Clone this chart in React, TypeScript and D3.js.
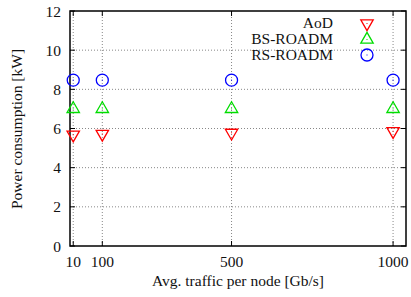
import React from "react";
import * as d3 from "d3";

const traffic = [10, 100, 500, 1000];
const aod = [5.68, 5.72, 5.78, 5.86];
const bsRoadm = [7.0, 7.0, 7.0, 7.0];
const rsRoadm = [8.47, 8.47, 8.47, 8.47];
const xTicks = [10, 100, 500, 1000];
const yTicks = [0, 2, 4, 6, 8, 10, 12];
const seriesNames = ["AoD", "BS-ROADM", "RS-ROADM"];
const seriesColors = ["#ff0000", "#00dd00", "#0000ff"];

const W = 411, H = 297;
const L = 70, R = 406, T = 11, B = 246;
const FONT = "'Liberation Serif', 'Times New Roman', serif";

function Marker({ kind, x, y, color }: { kind: number; x: number; y: number; color: string }) {
  const s = 6.2;
  const h = s * Math.sqrt(3);
  let shape: React.ReactNode;
  if (kind === 0) {
    shape = <path d={`M${x - s},${y - h / 3}L${x + s},${y - h / 3}L${x},${y + (2 * h) / 3}Z`} fill="none" stroke={color} strokeWidth={1.3} />;
  } else if (kind === 1) {
    shape = <path d={`M${x - s},${y + h / 3}L${x + s},${y + h / 3}L${x},${y - (2 * h) / 3}Z`} fill="none" stroke={color} strokeWidth={1.3} />;
  } else {
    shape = <circle cx={x} cy={y} r={6} fill="none" stroke={color} strokeWidth={1.3} />;
  }
  return (
    <g>
      {shape}
      <rect x={x - 0.5} y={y - 0.5} width={1} height={1} fill={color} />
    </g>
  );
}

export default function App() {
  const x = d3.scaleLinear().domain([0, 1040]).range([L, R]);
  const y = d3.scaleLinear().domain([0, 12]).range([B, T]);
  const series = [aod, bsRoadm, rsRoadm];
  const legendY = [22.5, 38.5, 54];

  return (
    <svg width={W} height={H} style={{ position: "absolute", left: 0, top: 0, background: "#fff" }} fontFamily={FONT}>
      <rect x={0} y={0} width={W} height={H} fill="#fff" />
      {/* grid */}
      {yTicks.filter((t) => t > 0 && t < 12).map((t) => (
        <line key={"gy" + t} x1={L} x2={R} y1={y(t)} y2={y(t)} stroke="#888" strokeWidth={1} strokeDasharray="1,2" />
      ))}
      {xTicks.map((t) => (
        <line key={"gx" + t} x1={x(t)} x2={x(t)} y1={B} y2={T} stroke="#888" strokeWidth={1} strokeDasharray="1,2" />
      ))}
      {/* ticks */}
      {yTicks.map((t) => (
        <g key={"ty" + t}>
          <line x1={L} x2={L + 5} y1={y(t)} y2={y(t)} stroke="#000" />
          <line x1={R} x2={R - 5} y1={y(t)} y2={y(t)} stroke="#000" />
          <text x={61} y={y(t)} textAnchor="end" dominantBaseline="central" fontSize={15.5} fill="#111">{t}</text>
        </g>
      ))}
      {xTicks.map((t) => (
        <g key={"tx" + t}>
          <line x1={x(t)} x2={x(t)} y1={B} y2={B - 5} stroke="#000" />
          <line x1={x(t)} x2={x(t)} y1={T} y2={T + 5} stroke="#000" />
          <text x={x(t)} y={267} textAnchor="middle" fontSize={15.5} fill="#111">{t}</text>
        </g>
      ))}
      {/* frame */}
      <rect x={L} y={T} width={R - L} height={B - T} fill="none" stroke="#000" strokeWidth={1.5} />
      {/* data */}
      {series.map((vals, si) =>
        vals.map((v, i) => (
          <Marker key={si + "-" + i} kind={si} x={x(traffic[i])} y={y(v)} color={seriesColors[si]} />
        ))
      )}
      {/* legend */}
      {seriesNames.map((n, i) => (
        <g key={"lg" + i}>
          <text x={333} y={legendY[i]} textAnchor="end" dominantBaseline="central" fontSize={15.5} fill="#111">{n}</text>
          <Marker kind={i} x={367} y={legendY[i] + 1} color={seriesColors[i]} />
        </g>
      ))}
      {/* axis titles */}
      <text x={238} y={286} textAnchor="middle" fontSize={15.5} fill="#111">Avg. traffic per node [Gb/s]</text>
      <text transform={`translate(16,${129}) rotate(-90)`} textAnchor="middle" dominantBaseline="central" fontSize={15.5} fill="#111">Power consumption [kW]</text>
    </svg>
  );
}
